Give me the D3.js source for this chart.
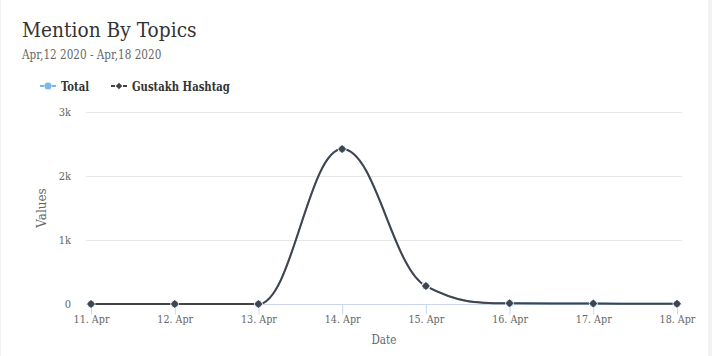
<!DOCTYPE html>
<html><head><meta charset="utf-8">
<script src="https://cdn.jsdelivr.net/npm/d3@7"></script>
<style>
html,body{margin:0;padding:0;background:#f2f2f2;}
svg{display:block;}
text{font-family:"DejaVu Serif","Liberation Serif",serif;}
</style></head>
<body>
<svg id="c" width="712" height="356"></svg>
<script>
const title = "Mention By Topics";
const subtitle = "Apr,12 2020 - Apr,18 2020";
const categories = ["11. Apr","12. Apr","13. Apr","14. Apr","15. Apr","16. Apr","17. Apr","18. Apr"];
const totalValues = [0, 0, 0, 2420, 280, 10, 6, 2];
const hashtagValues = [0, 0, 0, 2420, 280, 10, 6, 2];
const yTicks = [0, 1000, 2000, 3000];
const yTickLabels = ["0", "1k", "2k", "3k"];
const seriesNames = ["Total", "Gustakh Hashtag"];
const seriesColors = ["#7cb5ec", "#434348"];

const svg = d3.select("#c");
svg.append("rect").attr("x",1).attr("y",0).attr("width",707).attr("height",356).attr("fill","#ffffff");

// narrow DejaVu glyphs toward the reference slab font widths
function condense(sel, f){
  sel.each(function(){
    const w = this.getComputedTextLength();
    d3.select(this).attr("textLength", w*f).attr("lengthAdjust","spacingAndGlyphs");
  });
  return sel;
}

const pLeft = 86, pRight = 682, pTop = 112, pBottom = 304;
const x = d3.scaleLinear().domain([-0.06, categories.length - 1 + 0.06]).range([pLeft, pRight]);
const y = d3.scaleLinear().domain([0, 3000]).range([pBottom, pTop]);

// title
condense(svg.append("text").attr("x",22).attr("y",37).attr("font-size",20).attr("fill","#333333").text(title), 0.93);
condense(svg.append("text").attr("x",22).attr("y",59).attr("font-size",12).attr("fill","#666666").text(subtitle), 0.87);

// gridlines
svg.append("g").selectAll("line").data(yTicks.filter(d=>d>0)).join("line")
  .attr("x1",pLeft).attr("x2",pRight).attr("y1",d=>Math.round(y(d))+0.5).attr("y2",d=>Math.round(y(d))+0.5)
  .attr("stroke","#e6e6e6").attr("stroke-width",1);

// y labels
condense(svg.append("g").selectAll("text").data(yTicks).join("text")
  .attr("x",71).attr("y",d=>y(d)+4).attr("text-anchor","end").attr("font-size",11).attr("fill","#666666")
  .text((d,i)=>yTickLabels[i]), 0.9);
svg.append("text").attr("transform",`translate(46,${(pTop+pBottom)/2}) rotate(-90)`).attr("text-anchor","middle")
  .attr("font-size",12).attr("fill","#666666").text("Values");

// x axis
const xAxis = d3.axisBottom(x).tickValues(d3.range(categories.length)).tickFormat(i=>categories[i]).tickSize(10).tickSizeOuter(0);
const gx = svg.append("g").attr("transform",`translate(0,${pBottom+0.5})`).call(xAxis);
gx.select(".domain").attr("stroke","#ccd6eb").attr("d",`M${pLeft},0H${pRight}`);
gx.selectAll(".tick line").attr("stroke","#ccd6eb");
condense(gx.selectAll(".tick text").attr("fill","#666666").attr("font-size",11).attr("font-family","DejaVu Serif").attr("dy","0.95em").attr("y",8), 0.87);
condense(svg.append("text").attr("x",(pLeft+pRight)/2).attr("y",344).attr("text-anchor","middle").attr("font-size",12).attr("fill","#666666").text("Date"), 0.87);

// Highcharts-like spline
function splinePath(vals){
  const pts = vals.map((v,i)=>({px:x(i), py:y(v)}));
  const p = d3.path();
  const sm = 1.5, den = sm + 1;
  p.moveTo(pts[0].px, pts[0].py);
  for(let i=1;i<pts.length;i++){
    const pt = pts[i], last = pts[i-1], next = pts[i+1];
    let lcx = pt.px, lcy = pt.py;
    if(next){
      lcx = (sm*pt.px + last.px)/den; lcy = (sm*pt.py + last.py)/den;
      const rcx = (sm*pt.px + next.px)/den; let rcy = (sm*pt.py + next.py)/den;
      let corr = 0;
      if(rcx !== lcx) corr = ((rcy - lcy)*(rcx - pt.px))/(rcx - lcx) + pt.py - rcy;
      lcy += corr; rcy += corr;
      if(lcy > last.py && lcy > pt.py){ lcy = Math.max(last.py, pt.py); rcy = 2*pt.py - lcy; }
      else if(lcy < last.py && lcy < pt.py){ lcy = Math.min(last.py, pt.py); rcy = 2*pt.py - lcy; }
      if(rcy > next.py && rcy > pt.py){ rcy = Math.max(next.py, pt.py); lcy = 2*pt.py - rcy; }
      else if(rcy < next.py && rcy < pt.py){ rcy = Math.min(next.py, pt.py); lcy = 2*pt.py - rcy; }
      pt.rcx = rcx; pt.rcy = rcy;
    }
    const c1x = last.rcx !== undefined ? last.rcx : last.px;
    const c1y = last.rcy !== undefined ? last.rcy : last.py;
    p.bezierCurveTo(c1x, c1y, lcx, lcy, pt.px, pt.py);
  }
  return p.toString();
}

const seriesData = [totalValues, hashtagValues];
seriesData.forEach((vals, si)=>{
  svg.append("path").attr("d", splinePath(vals)).attr("fill","none").attr("stroke",seriesColors[si]).attr("stroke-width",2).attr("stroke-linejoin","round").attr("stroke-linecap","round");
});
seriesData.forEach((vals, si)=>{
  const sym = si===0 ? d3.symbol(d3.symbolCircle, 50) : d3.symbol(d3.symbolSquare, 32);
  svg.append("g").selectAll("path").data(vals).join("path")
    .attr("d", sym)
    .attr("transform",(d,i)=>`translate(${x(i)},${y(d)})` + (si===1 ? " rotate(45)" : ""))
    .attr("fill",seriesColors[si]).attr("stroke", si===0 ? "#ffffff" : "none").attr("stroke-width",1);
});

// legend
const legendItems = [{x:40, name:seriesNames[0]},{x:111, name:seriesNames[1]}];
legendItems.forEach((it, si)=>{
  const g = svg.append("g").attr("transform",`translate(${it.x},86)`);
  g.append("line").attr("x1",0).attr("x2",16).attr("y1",0).attr("y2",0).attr("stroke",seriesColors[si]).attr("stroke-width",2).attr("stroke-dasharray","4,8,4");
  const sym = si===0 ? d3.symbol(d3.symbolCircle, 40) : d3.symbol(d3.symbolSquare, 22);
  g.append("path").attr("d", sym).attr("transform", "translate(8,0)" + (si===1?" rotate(45)":"")).attr("fill",seriesColors[si]);
  condense(g.append("text").attr("x",21).attr("y",4.5).attr("font-size",12).attr("font-weight","bold").attr("fill","#333333").text(it.name), 0.84);
});
</script>
</body></html>
